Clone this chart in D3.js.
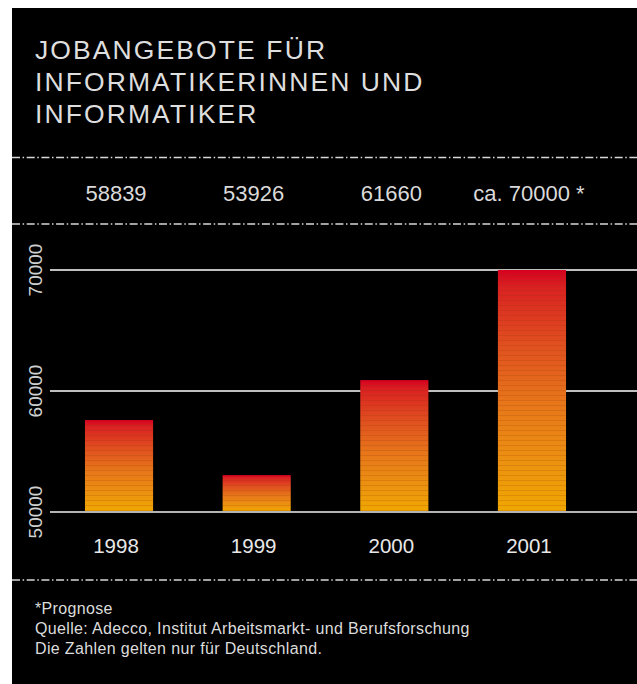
<!DOCTYPE html>
<html>
<head>
<meta charset="utf-8">
<script src="https://cdn.jsdelivr.net/npm/d3@7"></script>
<style>
  body { margin: 0; background: #fff; }
  svg { display: block; }
  text { font-family: "Liberation Sans", Arial, sans-serif; }
</style>
</head>
<body>
<div id="chart"></div>
<script>
// data
const years = ['1998', '1999', '2000', '2001'];
const barValues = [57600, 53050, 60900, 70000];   // as drawn
const valueLabels = ['58839', '53926', '61660', 'ca. 70000 *'];
const yTicks = [50000, 60000, 70000];
const titleLines = ['JOBANGEBOTE FÜR', 'INFORMATIKERINNEN UND', 'INFORMATIKER'];
const footLines = ['*Prognose', 'Quelle: Adecco, Institut Arbeitsmarkt- und Berufsforschung', 'Die Zahlen gelten nur für Deutschland.'];

let width = 637,
    height = 684;

let svg = d3.select('#chart').append('svg')
    .attr('width', width)
    .attr('height', height);

// black panel
svg.append('rect')
    .attr('x', 12).attr('y', 8)
    .attr('width', width - 12).attr('height', height - 8)
    .attr('fill', '#000');

// gradient for bars
let defs = svg.append('defs');
let grad = defs.append('linearGradient')
    .attr('id', 'barGrad')
    .attr('x1', 0).attr('y1', 0).attr('x2', 0).attr('y2', 1);
[[0, '#d6001f'], [0.07, '#da2122'], [0.3, '#e04e20'], [0.55, '#e7761a'], [0.8, '#ec9210'], [1, '#f0a800']]
    .forEach(s => grad.append('stop').attr('offset', s[0]).attr('stop-color', s[1]));

let stripes = defs.append('pattern')
    .attr('id', 'stripes')
    .attr('patternUnits', 'userSpaceOnUse')
    .attr('width', 10).attr('height', 5);
stripes.append('rect')
    .attr('x', 0).attr('y', 0).attr('width', 10).attr('height', 1)
    .attr('fill', '#8a3a00').attr('opacity', 0.18);

// title
svg.append('g').selectAll('text')
    .data(titleLines)
    .join('text')
    .attr('x', 35)
    .attr('y', (d, i) => 59 + i * 32)
    .attr('fill', '#dedede')
    .style('font-size', '26.5px')
    .style('letter-spacing', '2.1px')
    .text(d => d);

// dash-dot separators
[157.5, 224, 580].forEach(y => {
    svg.append('line')
        .attr('x1', 12).attr('x2', width)
        .attr('y1', y).attr('y2', y)
        .attr('stroke', '#d8d8d8')
        .attr('stroke-width', 1.3)
        .attr('stroke-dasharray', '8,2.6,1.5,2.6');
});

// scales
let x = d3.scaleBand()
    .domain(years)
    .range([50, 601])
    .paddingInner(0.505)
    .paddingOuter(0.254);

let y = d3.scaleLinear()
    .domain([50000, 70000])
    .range([512, 270]);

// value row
svg.append('g').selectAll('text')
    .data(valueLabels)
    .join('text')
    .attr('x', (d, i) => x(years[i]) + x.bandwidth() / 2 - 3)
    .attr('y', 201)
    .attr('text-anchor', 'middle')
    .attr('fill', '#dadada')
    .style('font-size', '22px')
    .text(d => d);

// grid lines
svg.append('g').selectAll('line')
    .data(yTicks.slice(1))
    .join('line')
    .attr('x1', 50).attr('x2', width)
    .attr('y1', d => y(d)).attr('y2', d => y(d))
    .attr('stroke', '#fff')
    .attr('stroke-width', 1.3);

// bars
let bars = svg.append('g');
bars.selectAll('rect.bar')
    .data(barValues)
    .join('rect')
    .attr('class', 'bar')
    .attr('x', (d, i) => x(years[i]))
    .attr('y', d => y(d))
    .attr('width', x.bandwidth())
    .attr('height', d => y(50000) - y(d))
    .attr('fill', 'url(#barGrad)');
bars.selectAll('rect.stripe')
    .data(barValues)
    .join('rect')
    .attr('class', 'stripe')
    .attr('x', (d, i) => x(years[i]))
    .attr('y', d => y(d) + 2)
    .attr('width', x.bandwidth())
    .attr('height', d => y(50000) - y(d) - 2)
    .attr('fill', 'url(#stripes)');

// baseline
svg.append('line')
    .attr('x1', 50).attr('x2', width)
    .attr('y1', y(50000)).attr('y2', y(50000))
    .attr('stroke', '#b4b4b4')
    .attr('stroke-width', 2);

// y tick labels, rotated
svg.append('g').selectAll('text')
    .data(yTicks)
    .join('text')
    .attr('transform', d => `translate(42,${y(d)}) rotate(-90)`)
    .attr('text-anchor', 'middle')
    .attr('fill', '#d0d0d0')
    .style('font-family', '"Liberation Sans Narrow", "Liberation Sans", sans-serif')
    .style('font-size', '19px')
    .text(d => d);

// year labels
svg.append('g').selectAll('text')
    .data(years)
    .join('text')
    .attr('x', d => x(d) + x.bandwidth() / 2 - 3)
    .attr('y', 553)
    .attr('text-anchor', 'middle')
    .attr('fill', '#e8e8e8')
    .style('font-size', '20.5px')
    .text(d => d);

// footer
svg.append('g').selectAll('text')
    .data(footLines)
    .join('text')
    .attr('x', 35)
    .attr('y', (d, i) => 614 + i * 20)
    .attr('fill', '#dcdcdc')
    .style('font-size', '16px')
    .style('letter-spacing', '0.35px')
    .text(d => d);
</script>
</body>
</html>
